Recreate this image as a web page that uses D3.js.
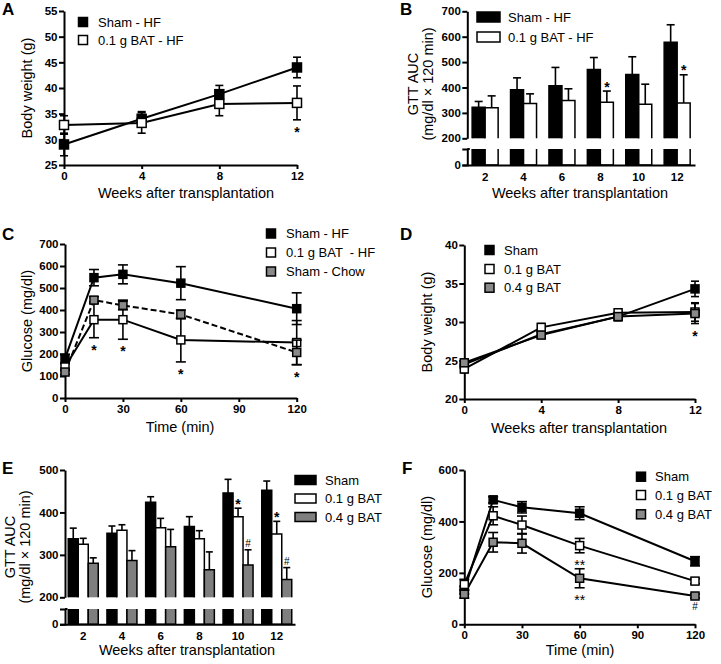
<!DOCTYPE html>
<html><head><meta charset="utf-8">
<script src="https://cdn.jsdelivr.net/npm/d3@7"></script>
<style>body{margin:0;background:#fff} svg{display:block} text{font-family:Arial,"Liberation Sans",sans-serif;white-space:pre}</style>
</head><body><svg id="c" width="721" height="664"></svg>
<script>
// ---------- DATA ----------
// Panel A: body weight, HF
const weeksA = [0, 4, 8, 12];
const shamHF_A = [29.0, 34.0, 38.8, 44.0];
const shamHF_A_err = [2.2, 1.4, 1.7, 2.0];
const bat01HF_A = [32.8, 33.2, 36.9, 37.1];
const bat01HF_A_err = [1.8, 2.0, 2.3, 3.3];
const ticksA_y = [25, 30, 35, 40, 45, 50, 55];

// Panel B: GTT AUC, HF
const weeksB = ["2", "4", "6", "8", "10", "12"];
const shamHF_B = [322, 391, 407, 471, 451, 578];
const shamHF_B_err = [23, 47, 72, 47, 70, 69];
const bat01HF_B = [320, 337, 349, 342, 334, 339];
const bat01HF_B_err = [47, 38, 46, 44, 79, 111];
const ticksB_y = [200, 300, 400, 500, 600, 700];

// Panel C: GTT glucose, HF
const timeC = [0, 15, 30, 60, 120];
const shamHF_C = [179, 547, 562, 522, 406];
const shamHF_C_err = [20, 37, 43, 75, 72];
const bat01HF_C = [141, 356, 356, 264, 252];
const bat01HF_C_err = [15, 82, 89, 100, 100];
const shamChow_C = [118, 445, 421, 380, 207];
const shamChow_C_err = [10, 15, 20, 20, 56];
const ticksC_y = [0, 100, 200, 300, 400, 500, 600, 700];
const ticksTime = [0, 30, 60, 90, 120];

// Panel D: body weight
const weeksD = [0, 4, 8, 12];
const sham_D = [24.5, 28.4, 30.7, 34.3];
const sham_D_err = [0.5, 0.5, 0.5, 1.0];
const bat01_D = [23.9, 29.3, 31.2, 31.3];
const bat01_D_err = [0.5, 0.5, 0.5, 1.2];
const bat04_D = [24.7, 28.3, 30.7, 31.1];
const bat04_D_err = [0.4, 0.4, 0.5, 1.3];
const ticksD_y = [20, 25, 30, 35, 40];

// Panel E: GTT AUC
const weeksE = ["2", "4", "6", "8", "10", "12"];
const sham_E = [338, 351, 424, 367, 446, 452];
const sham_E_err = [25, 17, 13, 23, 32, 22];
const bat01_E = [325, 358, 364, 338, 390, 349];
const bat01_E_err = [14, 13, 22, 19, 20, 30];
const bat04_E = [280, 287, 319, 265, 276, 242];
const bat04_E_err = [13, 23, 41, 42, 36, 28];
const ticksE_y = [200, 300, 400, 500];

// Panel F: GTT glucose
const timeF = [0, 15, 30, 60, 120];
const sham_F = [133, 484, 455, 432, 245];
const sham_F_err = [15, 12, 22, 25, 18];
const bat01_F = [155, 422, 386, 306, 168];
const bat01_F_err = [20, 35, 35, 28, 10];
const bat04_F = [117, 319, 315, 179, 110];
const bat04_F_err = [15, 38, 38, 37, 8];
const ticksF_y = [0, 200, 400, 600];

// significance marks: [series index, point index, label, side]
const sigA = [[1, 3, "*", "below"]];
const sigB = [[1, 3, "*", "above"], [1, 5, "*", "above"]];
const sigC = [[1, 1, "*", "below"], [1, 2, "*", "below"], [1, 3, "*", "below"], [1, 4, "*", "below"]];
const sigD = [[2, 3, "*", "below"]];
const sigE = [[1, 4, "*", "above"], [1, 5, "*", "above"], [2, 4, "#", "above"], [2, 5, "#", "above"]];
const sigF = [[1, 3, "**", "below"], [2, 3, "**", "below"], [2, 4, "#", "below"]];

// ---------- DRAWING ----------
const svg = d3.select('#c');
const GRAY = '#8a8a8a';
const FILLS = ['#000', '#fff', GRAY];

function styleAxis(sel) {
  sel.selectAll('path.domain').attr('stroke', '#000').attr('stroke-width', 2);
  sel.selectAll('.tick line').attr('stroke', '#000').attr('stroke-width', 2);
  sel.selectAll('.tick text').attr('font-size', 11.5).attr('font-weight', 'bold').attr('fill', '#000')
    .attr('font-family', 'Arial, "Liberation Sans", sans-serif');
}

function letter(t, x, y) {
  svg.append('text').attr('x', x).attr('y', y).attr('font-size', 17).attr('font-weight', 'bold').text(t);
}
function yTitle(lines, xs, yc) {
  lines.forEach((l, i) => {
    svg.append('text').attr('transform', `translate(${xs[i]},${yc}) rotate(-90)`)
      .attr('text-anchor', 'middle').attr('dy', '0.35em').attr('font-size', 14.5).text(l);
  });
}
function xTitle(t, x, y) {
  svg.append('text').attr('x', x).attr('y', y).attr('text-anchor', 'middle').attr('font-size', 14.5).text(t);
}
function legendMarkers(items, x, ys, tx, size) {
  items.forEach((it, i) => {
    svg.append('rect').attr('x', x - size / 2).attr('y', ys[i] - size / 2).attr('width', size).attr('height', size)
      .attr('fill', FILLS[i]).attr('stroke', '#000').attr('stroke-width', 1.5);
    svg.append('text').attr('x', tx).attr('y', ys[i]).attr('dy', '0.35em').attr('font-size', 13).text(it);
  });
}
function legendBars(items, x, ys, w, h, tx, fills) {
  items.forEach((it, i) => {
    svg.append('rect').attr('x', x).attr('y', ys[i] - h / 2).attr('width', w).attr('height', h)
      .attr('fill', (fills || FILLS)[i]).attr('stroke', '#000').attr('stroke-width', 1.5);
    svg.append('text').attr('x', tx).attr('y', ys[i]).attr('dy', '0.35em').attr('font-size', 13).text(it);
  });
}

function linePanel(p) {
  const x = d3.scaleLinear().domain(p.xDomain).range([p.left, p.right]);
  const y = d3.scaleLinear().domain(p.yDomain).range([p.bottom, p.top]);
  const g = svg.append('g');
  g.append('g').attr('transform', `translate(${p.left},0)`)
    .call(d3.axisLeft(y).tickValues(p.yTicks).tickSize(5).tickSizeOuter(0).tickPadding(1.5)).call(styleAxis);
  g.append('g').attr('transform', `translate(0,${p.bottom})`)
    .call(d3.axisBottom(x).tickValues(p.xTicks).tickSize(4).tickSizeOuter(0).tickPadding(3)).call(styleAxis);
  const data = p.series.map(s => p.xs.map((xv, i) => ({ x: xv, v: s.values[i], e: s.err[i] })));
  p.series.forEach((s, k) => {
    g.append('path').datum(data[k]).attr('d', d3.line().x(d => x(d.x)).y(d => y(d.v)))
      .attr('fill', 'none').attr('stroke', '#000').attr('stroke-width', 2)
      .attr('stroke-dasharray', s.dash || null);
  });
  const cap = p.cap || 4;
  p.series.forEach((s, k) => {
    const eg = g.append('g').attr('stroke', '#000').attr('stroke-width', 1.6);
    data[k].forEach(d => {
      const cx = x(d.x), y1 = y(d.v - d.e), y2 = y(d.v + d.e);
      eg.append('line').attr('x1', cx).attr('x2', cx).attr('y1', y1).attr('y2', y2);
      eg.append('line').attr('x1', cx - cap).attr('x2', cx + cap).attr('y1', y1).attr('y2', y1);
      eg.append('line').attr('x1', cx - cap).attr('x2', cx + cap).attr('y1', y2).attr('y2', y2);
    });
    const ms = p.ms || 8;
    g.append('g').selectAll('rect').data(data[k]).join('rect')
      .attr('x', d => x(d.x) - ms / 2).attr('y', d => y(d.v) - ms / 2).attr('width', ms).attr('height', ms)
      .attr('fill', s.fill).attr('stroke', '#000').attr('stroke-width', 1.5);
  });
  (p.sig || []).forEach(([k, i, lab, side]) => {
    const d = data[k][i];
    const small = lab === '#';
    const fs = small ? 10 : 14;
    let ty;
    if (side === 'below') ty = y(d.v - d.e) + (small ? 12 : 17);
    else ty = y(d.v + d.e) - 3;
    g.append('text').attr('x', x(d.x)).attr('y', ty).attr('text-anchor', 'middle')
      .attr('font-size', fs).attr('font-weight', lab === '**' || small ? 'normal' : 'bold').text(lab);
  });
}

function barPanel(p) {
  const x0 = d3.scaleBand().domain(p.cats).range([p.left, p.right]).paddingInner(p.pi).paddingOuter(p.po);
  const x1 = d3.scaleBand().domain(d3.range(p.series.length)).range([0, x0.bandwidth()]);
  const yU = d3.scaleLinear().domain(p.upper).range([p.breakTop, p.top]);
  const yL = d3.scaleLinear().domain(p.lower).range([p.bottom, p.breakBottom]).clamp(true);
  const g = svg.append('g');
  const base = p.upper[0];
  p.series.forEach((s, k) => {
    p.cats.forEach((c, i) => {
      const v = s.values[i], e = s.err[i];
      const xb = x0(c) + x1(k), w = x1.bandwidth();
      const top = yU(Math.max(v, base));
      g.append('rect').attr('x', xb).attr('y', top).attr('width', w).attr('height', yU(base) - top).attr('fill', s.fill);
      g.append('path').attr('d', `M${xb},${yU(base)}V${top}H${xb + w}V${yU(base)}`)
        .attr('fill', 'none').attr('stroke', '#000').attr('stroke-width', 1.5);
      const lt = yL(v);
      g.append('rect').attr('x', xb).attr('y', lt).attr('width', w).attr('height', yL(0) - lt).attr('fill', s.fill);
      g.append('path').attr('d', `M${xb},${lt}V${yL(0)}H${xb + w}V${lt}`)
        .attr('fill', 'none').attr('stroke', '#000').attr('stroke-width', 1.5);
      const cx = xb + w / 2, ye = yU(v + e);
      g.append('line').attr('x1', cx).attr('x2', cx).attr('y1', top).attr('y2', ye).attr('stroke', '#000').attr('stroke-width', 1.6);
      g.append('line').attr('x1', cx - p.cap).attr('x2', cx + p.cap).attr('y1', ye).attr('y2', ye).attr('stroke', '#000').attr('stroke-width', 1.6);
    });
  });
  g.append('g').attr('transform', `translate(${p.left},0)`)
    .call(d3.axisLeft(yU).tickValues(p.yTicks).tickSize(5).tickSizeOuter(0).tickPadding(1.5)).call(styleAxis);
  g.append('g').attr('transform', `translate(${p.left},0)`)
    .call(d3.axisLeft(yL).tickValues([0]).tickSize(5).tickSizeOuter(5).tickPadding(1.5)).call(styleAxis);
  g.append('line').attr('x1', p.left).attr('x2', p.left + 2.5).attr('y1', p.breakBottom).attr('y2', p.breakBottom)
    .attr('stroke', '#000').attr('stroke-width', 2);
  g.append('g').attr('transform', `translate(0,${p.bottom})`)
    .call(d3.axisBottom(x0).tickSize(0).tickSizeOuter(0).tickPadding(8)).call(styleAxis);
  (p.sig || []).forEach(([k, i, lab]) => {
    const s = p.series[k];
    const cx = x0(p.cats[i]) + x1(k) + x1.bandwidth() / 2;
    const small = lab === '#';
    const errTop = yU(s.values[i] + s.err[i]);
    g.append('text').attr('x', cx).attr('y', small ? errTop - 2.5 : errTop + 0.5).attr('text-anchor', 'middle')
      .attr('font-size', small ? 10 : 14).attr('font-weight', small ? 'normal' : 'bold').text(lab);
  });
}

// ----- Panel A -----
letter('A', 2, 15);
linePanel({ left: 64, right: 297, top: 11, bottom: 165, xDomain: [0, 12], yDomain: [25, 55],
  xs: weeksA, xTicks: weeksA, yTicks: ticksA_y, ms: 9,
  series: [{ values: shamHF_A, err: shamHF_A_err, fill: '#000' }, { values: bat01HF_A, err: bat01HF_A_err, fill: '#fff' }],
  sig: sigA });
legendMarkers(['Sham - HF', '0.1 g BAT - HF'], 83, [22, 40], 98, 9);
yTitle(['Body weight (g)'], [27], 88);
xTitle('Weeks after transplantation', 186, 198);

// ----- Panel B -----
letter('B', 400, 15);
barPanel({ left: 467.3, right: 695, top: 11.3, breakTop: 138.3, breakBottom: 149, bottom: 165,
  cats: weeksB, pi: 0.323, po: 0.126, upper: [200, 700], lower: [0, 50], yTicks: ticksB_y, cap: 4,
  series: [{ values: shamHF_B, err: shamHF_B_err, fill: '#000' }, { values: bat01HF_B, err: bat01HF_B_err, fill: '#fff' }],
  sig: sigB });
legendBars(['Sham - HF', '0.1 g BAT - HF'], 477, [17, 37], 23, 10, 508);
yTitle(['GTT AUC', '(mg/dl × 120 min)'], [413, 428], 84);
xTitle('Weeks after transplantation', 580, 198);

// ----- Panel C -----
letter('C', 2, 240);
linePanel({ left: 65, right: 296.7, top: 244, bottom: 398, xDomain: [0, 120], yDomain: [0, 700],
  xs: timeC, xTicks: ticksTime, yTicks: ticksC_y, ms: 8, cap: 5,
  series: [{ values: shamHF_C, err: shamHF_C_err, fill: '#000' },
           { values: bat01HF_C, err: bat01HF_C_err, fill: '#fff' },
           { values: shamChow_C, err: shamChow_C_err, fill: GRAY, dash: '6,3' }],
  sig: sigC });
legendMarkers(['Sham - HF', '0.1 g BAT  - HF', 'Sham - Chow'], 271, [233.5, 252.5, 271.5], 286, 9);
yTitle(['Glucose (mg/dl)'], [27], 321);
xTitle('Time (min)', 180, 432);

// ----- Panel D -----
letter('D', 400, 240);
linePanel({ left: 464.3, right: 695, top: 245, bottom: 399, xDomain: [0, 12], yDomain: [20, 40],
  xs: weeksD, xTicks: weeksD, yTicks: ticksD_y, ms: 8,
  series: [{ values: sham_D, err: sham_D_err, fill: '#000' },
           { values: bat01_D, err: bat01_D_err, fill: '#fff' },
           { values: bat04_D, err: bat04_D_err, fill: GRAY }],
  sig: sigD });
legendMarkers(['Sham', '0.1 g BAT', '0.4 g BAT'], 489.5, [250, 269, 287.7], 504, 9);
yTitle(['Body weight (g)'], [427], 322);
xTitle('Weeks after transplantation', 579, 433);

// ----- Panel E -----
letter('E', 2, 474);
barPanel({ left: 65, right: 295, top: 470, breakTop: 597.3, breakBottom: 609, bottom: 624.3,
  cats: weeksE, pi: 0.225, po: 0.084, upper: [200, 500], lower: [0, 50], yTicks: ticksE_y, cap: 3.5,
  series: [{ values: sham_E, err: sham_E_err, fill: '#000' },
           { values: bat01_E, err: bat01_E_err, fill: '#fff' },
           { values: bat04_E, err: bat04_E_err, fill: '#7f7f7f' }],
  sig: sigE });
legendBars(['Sham', '0.1 g BAT', '0.4 g BAT'], 295, [480, 498.5, 517], 21, 9, 325, ['#000', '#fff', '#7f7f7f']);
yTitle(['GTT AUC', '(mg/dl × 120 min)'], [10, 25], 547);
xTitle('Weeks after transplantation', 187, 655);

// ----- Panel F -----
letter('F', 402, 474);
linePanel({ left: 464.3, right: 695, top: 470, bottom: 624.3, xDomain: [0, 120], yDomain: [0, 600],
  xs: timeF, xTicks: ticksTime, yTicks: ticksF_y, ms: 8, cap: 5,
  series: [{ values: sham_F, err: sham_F_err, fill: '#000' },
           { values: bat01_F, err: bat01_F_err, fill: '#fff' },
           { values: bat04_F, err: bat04_F_err, fill: GRAY }],
  sig: sigF });
legendMarkers(['Sham', '0.1 g BAT', '0.4 g BAT'], 641, [476.7, 495, 514.3], 655, 9);
yTitle(['Glucose (mg/dl)'], [427], 547);
xTitle('Time (min)', 580, 655);
</script></body></html>
